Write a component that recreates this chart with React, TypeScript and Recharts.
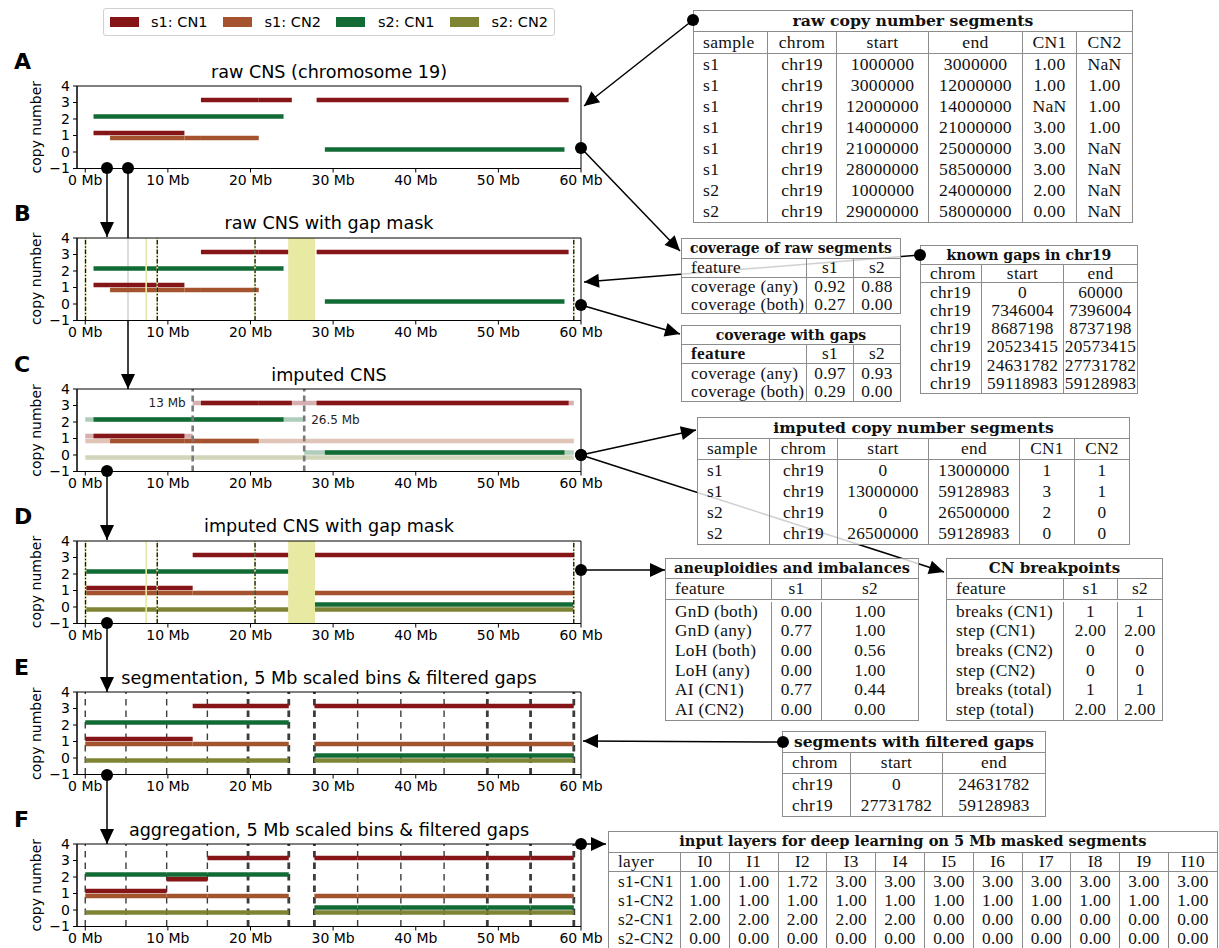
import React from 'react';
import { ComposedChart, Line, XAxis, YAxis, ReferenceArea, ReferenceLine, ReferenceDot } from 'recharts';

// ---------------- data ----------------
const CHROM = 'chr19';
const MB = 1e6;

const rawSample = ['s1', 's1', 's1', 's1', 's1', 's1', 's2', 's2'];
const rawStart = [1000000, 3000000, 12000000, 14000000, 21000000, 28000000, 1000000, 29000000];
const rawEnd = [3000000, 12000000, 14000000, 21000000, 25000000, 58500000, 24000000, 58000000];
const rawCN1 = [1, 1, NaN, 3, 3, 3, 2, 0];
const rawCN2 = [NaN, 1, 1, 1, NaN, NaN, NaN, NaN];

const gapStart = [0, 7346004, 8687198, 20523415, 24631782, 59118983];
const gapEnd = [60000, 7396004, 8737198, 20573415, 27731782, 59128983];

const impSample = ['s1', 's1', 's2', 's2'];
const impStart = [0, 13000000, 0, 26500000];
const impEnd = [13000000, 59128983, 26500000, 59128983];
const impCN1 = [1, 3, 2, 0];
const impCN2 = [1, 1, 0, 0];

const breakpointsMb = [13, 26.5];
const breakpointLabels = ['13 Mb', '26.5 Mb'];

const keepStart = [0, 27731782];
const keepEnd = [24631782, 59128983];

const binStart = [0, 4926356, 9852713, 14779069, 19705426, 27731782, 32964649, 38197516, 43430383, 48663250, 53896116];
const binEnd = [4926356, 9852713, 14779069, 19705426, 24631782, 32964649, 38197516, 43430383, 48663250, 53896116, 59128983];
const layerNames = ['I0', 'I1', 'I2', 'I3', 'I4', 'I5', 'I6', 'I7', 'I8', 'I9', 'I10'];
const s1CN1Layer = [1.0, 1.0, 1.72, 3.0, 3.0, 3.0, 3.0, 3.0, 3.0, 3.0, 3.0];
const s1CN2Layer = [1.0, 1.0, 1.0, 1.0, 1.0, 1.0, 1.0, 1.0, 1.0, 1.0, 1.0];
const s2CN1Layer = [2.0, 2.0, 2.0, 2.0, 2.0, 0.0, 0.0, 0.0, 0.0, 0.0, 0.0];
const s2CN2Layer = [0.0, 0.0, 0.0, 0.0, 0.0, 0.0, 0.0, 0.0, 0.0, 0.0, 0.0];
const layerRowNames = ['s1-CN1', 's1-CN2', 's2-CN1', 's2-CN2'];

const covFeatures = ['coverage (any)', 'coverage (both)'];
const covRawS1 = [0.92, 0.27];
const covRawS2 = [0.88, 0.0];
const covGapS1 = [0.97, 0.29];
const covGapS2 = [0.93, 0.0];

const aneuFeatures = ['GnD (both)', 'GnD (any)', 'LoH (both)', 'LoH (any)', 'AI (CN1)', 'AI (CN2)'];
const aneuS1 = [0.0, 0.77, 0.0, 0.0, 0.77, 0.0];
const aneuS2 = [1.0, 1.0, 0.56, 1.0, 0.44, 0.0];

const bpFeatures = ['breaks (CN1)', 'step (CN1)', 'breaks (CN2)', 'step (CN2)', 'breaks (total)', 'step (total)'];
const bpS1 = ['1', '2.00', '0', '0', '1', '2.00'];
const bpS2 = ['1', '2.00', '0', '0', '1', '2.00'];

const seriesNames = ['s1: CN1', 's1: CN2', 's2: CN1', 's2: CN2'];
const seriesColors = ['#861518', '#a5532e', '#126b34', '#7e8434'];

const X_TICKS = [0, 10, 20, 30, 40, 50, 60];
const Y_TICKS = [-1, 0, 1, 2, 3, 4];
const PANEL_LETTERS = ['A', 'B', 'C', 'D', 'E', 'F'];
const PANEL_TITLES = [
  'raw CNS (chromosome 19)',
  'raw CNS with gap mask',
  'imputed CNS',
  'imputed CNS with gap mask',
  'segmentation, 5 Mb scaled bins & filtered gaps',
  'aggregation, 5 Mb scaled bins & filtered gaps',
];

// ---------------- derived segments ----------------
type Seg = { x1: number; x2: number; v: number; s: number; faded?: boolean };
const OFF = [0.15, -0.15, 0.15, -0.15];
const sIdx = (sample: string, cn: number) => (sample === 's1' ? 0 : 2) + (cn - 1);

const rawSegs: Seg[] = [];
rawSample.forEach((sm, i) => {
  if (!isNaN(rawCN1[i])) rawSegs.push({ x1: rawStart[i] / MB, x2: rawEnd[i] / MB, v: rawCN1[i], s: sIdx(sm, 1) });
  if (!isNaN(rawCN2[i])) rawSegs.push({ x1: rawStart[i] / MB, x2: rawEnd[i] / MB, v: rawCN2[i], s: sIdx(sm, 2) });
});
rawSegs.sort((a, b) => a.s - b.s);

const impSegs: Seg[] = [];
impSample.forEach((sm, i) => {
  impSegs.push({ x1: impStart[i] / MB, x2: impEnd[i] / MB, v: impCN1[i], s: sIdx(sm, 1), faded: true });
  impSegs.push({ x1: impStart[i] / MB, x2: impEnd[i] / MB, v: impCN2[i], s: sIdx(sm, 2), faded: true });
});
impSegs.sort((a, b) => a.s - b.s);

const maskedSegs: Seg[] = [];
impSample.forEach((sm, i) => {
  keepStart.forEach((ks, k) => {
    const a = Math.max(ks, impStart[i]);
    const b = Math.min(keepEnd[k], impEnd[i]);
    if (b > a) {
      maskedSegs.push({ x1: a / MB, x2: b / MB, v: impCN1[i], s: sIdx(sm, 1) });
      maskedSegs.push({ x1: a / MB, x2: b / MB, v: impCN2[i], s: sIdx(sm, 2) });
    }
  });
});
maskedSegs.sort((a, b) => a.s - b.s);

const layers = [s1CN1Layer, s1CN2Layer, s2CN1Layer, s2CN2Layer];
const binSegs: Seg[] = [];
layers.forEach((lay, s) => {
  binStart.forEach((bs, b) => binSegs.push({ x1: bs / MB, x2: binEnd[b] / MB, v: lay[b], s }));
});

const binEdges = Array.from(new Set([...binStart, ...binEnd])).map((v) => v / MB);

// ---------------- layout ----------------
const PLOT_LEFT = 77;
const PLOT_W = 504;
const PH = 82.5;
const frameTop = (i: number) => 86 + 151.6 * i;
const fmt2 = (v: number) => (isNaN(v) ? 'NaN' : v.toFixed(2));
const fmtMinus = (v: number) => (v < 0 ? `\u2212${-v}` : `${v}`);

type ChartProps = {
  idx: number;
  segs: Seg[];
  gaps?: boolean;
  bins?: boolean;
  breaks?: boolean;
};

const MARKED_GAPS = [0, 2, 3, 5];
const BP_LABEL_Y = [3.15, 2.15];
const BP_LABEL_POS = ['left', 'right'];
const HEAVY_EDGES = [19.7, 24.6, 27.7, 48.7, 53.9, 59.1];

function CnChart({ idx, segs, gaps, bins, breaks }: ChartProps) {
  const top = frameTop(idx);
  return (
    <div style={{ position: 'absolute', left: 0, top: top - 40, zIndex: 2 }}>
      <ComposedChart width={PLOT_LEFT + PLOT_W + 40} height={40 + PH + 30} margin={{ top: 40, right: 40, bottom: 0, left: 0 }}>
        <XAxis
          type="number"
          dataKey="x"
          domain={[-1, 60]}
          ticks={X_TICKS}
          interval={0}
          allowDataOverflow
          height={30}
          tickSize={4}
          tickMargin={3}
          tickFormatter={(v: number) => `${v} Mb`}
          tick={{ fill: '#000', fontSize: 14, fontFamily: 'DejaVu Sans' }}
          stroke="#000"
          tickLine={{ stroke: '#000' }}
          axisLine={{ stroke: '#000' }}
        />
        <YAxis
          type="number"
          domain={[-1, 4]}
          ticks={Y_TICKS}
          interval={0}
          allowDataOverflow
          width={PLOT_LEFT}
          tickSize={4}
          tickMargin={3}
          tickFormatter={fmtMinus}
          tick={{ fill: '#000', fontSize: 14, fontFamily: 'DejaVu Sans' }}
          stroke="#000"
          tickLine={{ stroke: '#000' }}
          axisLine={{ stroke: '#000' }}
        />
        <ReferenceArea x1={-1} x2={60} y1={-1} y2={4} fill="#ffffff" fillOpacity={0.82} stroke="none" zIndex={-50} />
        {bins &&
          binEdges.map((e, i) => (
            <ReferenceLine
              key={`bin${i}`}
              x={e}
              stroke="#3c3c3c"
              strokeWidth={HEAVY_EDGES.some((h) => Math.abs(h - e) < 0.1) ? 2.8 : 1.4}
              strokeDasharray="6.5 5"
              zIndex={350}
            />
          ))}
        {segs.map((sg, i) => (
          <Line
            key={`seg${i}`}
            data={[
              { x: sg.x1, y: sg.v + OFF[sg.s] },
              { x: sg.x2, y: sg.v + OFF[sg.s] },
            ]}
            dataKey="y"
            type="linear"
            stroke={seriesColors[sg.s]}
            strokeOpacity={sg.faded ? 0.34 : 1}
            strokeWidth={4.6}
            dot={false}
            activeDot={false}
            legendType="none"
            isAnimationActive={false}
          />
        ))}
        {gaps &&
          gapStart.map((g, i) => (
            <ReferenceArea
              key={`gap${i}`}
              x1={g / MB}
              x2={gapEnd[i] / MB}
              y1={-1}
              y2={4}
              fill="#e8e9a3"
              fillOpacity={1}
              stroke="#e8e9a3"
              strokeWidth={1.2}
              ifOverflow="hidden"
              zIndex={450}
            />
          ))}
        {gaps &&
          MARKED_GAPS.map((gi) => (
            <ReferenceLine
              key={`gl${gi}`}
              x={(gapStart[gi] + gapEnd[gi]) / 2 / MB}
              stroke="#111"
              strokeWidth={1.3}
              strokeDasharray="4.5 1.8 1.4 1.8"
              zIndex={460}
            />
          ))}
        {breaks &&
          breakpointsMb.map((b, i) => (
            <ReferenceLine key={`bp${i}`} x={b} stroke="#7a7a7a" strokeWidth={2.6} strokeDasharray="6 4" zIndex={470} />
          ))}
        {breaks &&
          breakpointsMb.map((b, i) => (
            <ReferenceDot
              key={`bpl${i}`}
              x={b}
              y={BP_LABEL_Y[i]}
              r={0}
              fill="none"
              stroke="none"
              zIndex={480}
              label={{
                value: breakpointLabels[i],
                position: BP_LABEL_POS[i] as any,
                offset: 7,
                fontSize: 12,
                fill: '#222',
                fontFamily: 'DejaVu Sans',
              }}
            />
          ))}
        <ReferenceArea x1={-1} x2={60} y1={-1} y2={4} fill="none" stroke="#000" strokeWidth={1} ifOverflow="visible" zIndex={900} />
      </ComposedChart>
    </div>
  );
}

// ---------------- tables ----------------
type TableProps = {
  x: number;
  y: number;
  title: string;
  cols: number[];
  header: string[];
  rows: string[][];
  titleH: number;
  headH: number;
  rowH: number;
  fs?: number;
  tfs?: number;
  padTop?: number;
  boldFirstHead?: boolean;
};
const LINE = '1px solid #8c8c8c';

function DataTable({ x, y, title, cols, header, rows, titleH, headH, rowH, fs = 17.3, tfs = 15.4, padTop = 0, boldFirstHead }: TableProps) {
  const W = cols.reduce((a, b) => a + b, 0);
  const cell = (txt: string, i: number, bold?: boolean) => (
    <div
      key={i}
      style={{
        boxSizing: 'border-box',
        width: i === 0 ? cols[0] - 1 : i === cols.length - 1 ? undefined : cols[i],
        flex: i === cols.length - 1 ? 1 : undefined,
        borderRight: i < cols.length - 1 ? LINE : 'none',
        display: 'flex',
        alignItems: 'center',
        justifyContent: i === 0 ? 'flex-start' : 'center',
        paddingLeft: i === 0 ? 9 : 0,
        whiteSpace: 'nowrap',
        fontWeight: bold ? 'bold' : 'normal',
      }}
    >
      {txt}
    </div>
  );
  return (
    <div
      style={{
        position: 'absolute',
        left: x,
        top: y,
        width: W,
        boxSizing: 'border-box',
        border: LINE,
        background: 'rgba(255,255,255,0.82)',
        fontFamily: '"Liberation Serif", serif',
        fontSize: fs,
        letterSpacing: 0.3,
        color: '#111',
        lineHeight: 1,
        zIndex: 2,
      }}
    >
      <div
        style={{
          boxSizing: 'border-box',
          height: titleH,
          borderBottom: LINE,
          display: 'flex',
          alignItems: 'center',
          justifyContent: 'center',
          fontFamily: '"DejaVu Serif", serif',
          fontWeight: 'bold',
          fontSize: tfs,
          letterSpacing: 0,
          whiteSpace: 'nowrap',
        }}
      >
        {title}
      </div>
      <div style={{ boxSizing: 'border-box', display: 'flex', height: headH, borderBottom: LINE }}>
        {header.map((h, i) => cell(h, i, boldFirstHead && i === 0))}
      </div>
      <div style={{ paddingTop: padTop }}>
        {rows.map((r, ri) => (
          <div key={ri} style={{ display: 'flex', height: rowH }}>
            {r.map((c, i) => cell(c, i))}
          </div>
        ))}
      </div>
    </div>
  );
}

// ---------------- arrows ----------------
type Arrow = { from: [number, number]; to: [number, number] };
const ARROWS: Arrow[] = [
  { from: [693, 20], to: [584, 106] },
  { from: [581, 148], to: [680, 251] },
  { from: [920, 255], to: [584, 282] },
  { from: [581, 305], to: [680, 334] },
  { from: [581, 455], to: [696, 430] },
  { from: [581, 455], to: [944, 572] },
  { from: [581, 570], to: [665, 570] },
  { from: [783, 742], to: [583, 741] },
  { from: [581, 844], to: [606, 844] },
  { from: [107, 168], to: [107, 237] },
  { from: [128, 168], to: [128, 389] },
  { from: [107, 471], to: [107, 540] },
  { from: [107, 623], to: [107, 692] },
  { from: [107, 775], to: [107, 844] },
];

function headPoints(a: Arrow) {
  const [x0, y0] = a.from;
  const [x1, y1] = a.to;
  const L = Math.hypot(x1 - x0, y1 - y0);
  const ux = (x1 - x0) / L;
  const uy = (y1 - y0) / L;
  const hl = 15;
  const hw = 7;
  const bx = x1 - ux * hl;
  const by = y1 - uy * hl;
  return `${x1},${y1} ${bx - uy * hw},${by + ux * hw} ${bx + uy * hw},${by - ux * hw}`;
}

export default function App() {
  const tableRaw = rawSample.map((s, i) => [s, CHROM, `${rawStart[i]}`, `${rawEnd[i]}`, fmt2(rawCN1[i]), fmt2(rawCN2[i])]);
  const tableCovRaw = covFeatures.map((f, i) => [f, fmt2(covRawS1[i]), fmt2(covRawS2[i])]);
  const tableCovGap = covFeatures.map((f, i) => [f, fmt2(covGapS1[i]), fmt2(covGapS2[i])]);
  const tableGaps = gapStart.map((g, i) => [CHROM, `${g}`, `${gapEnd[i]}`]);
  const tableImp = impSample.map((s, i) => [s, CHROM, `${impStart[i]}`, `${impEnd[i]}`, `${impCN1[i]}`, `${impCN2[i]}`]);
  const tableAneu = aneuFeatures.map((f, i) => [f, fmt2(aneuS1[i]), fmt2(aneuS2[i])]);
  const tableBp = bpFeatures.map((f, i) => [f, bpS1[i], bpS2[i]]);
  const tableKeep = keepStart.map((k, i) => [CHROM, `${k}`, `${keepEnd[i]}`]);
  const tableLayers = layers.map((lay, i) => [layerRowNames[i], ...lay.map(fmt2)]);

  return (
    <div
      style={{
        position: 'absolute',
        left: 0,
        top: 0,
        width: 1219,
        height: 948,
        background: '#fff',
        overflow: 'hidden',
        fontFamily: 'DejaVu Sans',
      }}
    >
      {/* arrow shafts (below charts/tables) */}
      <svg width={1219} height={948} style={{ position: 'absolute', left: 0, top: 0, zIndex: 1 }}>
        {ARROWS.map((a, i) => (
          <line key={i} x1={a.from[0]} y1={a.from[1]} x2={a.to[0]} y2={a.to[1]} stroke="#000" strokeWidth={1.5} />
        ))}
      </svg>

      <CnChart idx={0} segs={rawSegs} />
      <CnChart idx={1} segs={rawSegs} gaps />
      <CnChart idx={2} segs={[...impSegs, ...rawSegs]} breaks />
      <CnChart idx={3} segs={maskedSegs} gaps />
      <CnChart idx={4} segs={maskedSegs} bins />
      <CnChart idx={5} segs={binSegs} bins />

      {/* legend */}
      <div
        style={{
          position: 'absolute',
          left: 103,
          top: 8,
          width: 452,
          height: 28,
          boxSizing: 'border-box',
          border: '1px solid #d0d0d0',
          borderRadius: 3,
          background: '#fff',
          zIndex: 3,
        }}
      >
        {seriesNames.map((n, i) => (
          <React.Fragment key={n}>
            <div
              style={{
                position: 'absolute',
                left: 6 + 113.2 * i,
                top: 8,
                width: 29,
                height: 10,
                background: seriesColors[i],
              }}
            />
            <div
              style={{
                position: 'absolute',
                left: 47 + 113.5 * i,
                top: 4,
                fontSize: 14.5,
                lineHeight: '18px',
                color: '#000',
                whiteSpace: 'nowrap',
              }}
            >
              {n}
            </div>
          </React.Fragment>
        ))}
      </div>

      <DataTable
        x={693}
        y={10}
        title="raw copy number segments"
        cols={[75, 69, 92, 94, 54, 56]}
        header={['sample', 'chrom', 'start', 'end', 'CN1', 'CN2']}
        rows={tableRaw}
        titleH={21}
        headH={22}
        rowH={21}
        fs={17.6}
        tfs={15.7}
      />
      <DataTable
        x={681}
        y={238}
        title="coverage of raw segments"
        cols={[126, 47, 47]}
        header={['feature', 's1', 's2']}
        rows={tableCovRaw}
        titleH={20}
        headH={19}
        rowH={17.5}
        tfs={13.9}
      />
      <DataTable
        x={920}
        y={245}
        title="known gaps in chr19"
        cols={[62, 82, 74]}
        header={['chrom', 'start', 'end']}
        rows={tableGaps}
        titleH={19}
        headH={18}
        rowH={18.3}
        tfs={14.1}
      />
      <DataTable
        x={681}
        y={325}
        title="coverage with gaps"
        cols={[126, 47, 47]}
        header={['feature', 's1', 's2']}
        rows={tableCovGap}
        titleH={19}
        headH={19}
        rowH={18.5}
        tfs={14}
        boldFirstHead
      />
      <DataTable
        x={697}
        y={417}
        title="imputed copy number segments"
        cols={[73, 68, 91, 91, 55, 55]}
        header={['sample', 'chrom', 'start', 'end', 'CN1', 'CN2']}
        rows={tableImp}
        titleH={21}
        headH={21}
        rowH={21}
        tfs={15.6}
      />
      <DataTable
        x={665}
        y={558}
        title="aneuploidies and imbalances"
        cols={[107, 50, 97]}
        header={['feature', 's1', 's2']}
        rows={tableAneu}
        titleH={20}
        headH={20.5}
        rowH={19.7}
        padTop={2}
        tfs={14.5}
      />
      <DataTable
        x={946}
        y={558}
        title="CN breakpoints"
        cols={[118, 54, 45]}
        header={['feature', 's1', 's2']}
        rows={tableBp}
        titleH={20}
        headH={20.5}
        rowH={19.7}
        padTop={2}
        tfs={15}
      />
      <DataTable
        x={782}
        y={731}
        title="segments with filtered gaps"
        cols={[69, 92, 103]}
        header={['chrom', 'start', 'end']}
        rows={tableKeep}
        titleH={21}
        headH={21}
        rowH={21}
        tfs={15.5}
      />
      <DataTable
        x={608}
        y={831}
        title="input layers for deep learning on 5 Mb masked segments"
        cols={[73, ...layerNames.map(() => 48.8)]}
        header={['layer', ...layerNames]}
        rows={tableLayers}
        titleH={20.5}
        headH={19}
        rowH={19.3}
        tfs={14.6}
      />

      {/* texts, arrow heads, dots */}
      <svg width={1219} height={948} style={{ position: 'absolute', left: 0, top: 0, zIndex: 5, pointerEvents: 'none' }}>
        {PANEL_TITLES.map((t, i) => {
          const top = frameTop(i);
          return (
            <g key={t}>
              <text x={14} y={top - 17} fontSize={22} fontWeight="bold" fontFamily="DejaVu Sans" fill="#000">
                {PANEL_LETTERS[i]}
              </text>
              <text x={PLOT_LEFT + PLOT_W / 2} y={top - 8.5} fontSize={17.6} textAnchor="middle" fontFamily="DejaVu Sans" fill="#000">
                {t}
              </text>
              <text
                x={41}
                y={top + PH / 2}
                fontSize={14}
                textAnchor="middle"
                fontFamily="DejaVu Sans"
                fill="#000"
                transform={`rotate(-90 41 ${top + PH / 2})`}
              >
                copy number
              </text>
            </g>
          );
        })}
        {ARROWS.map((a, i) => (
          <polygon key={`h${i}`} points={headPoints(a)} fill="#000" />
        ))}
        {ARROWS.map((a, i) => (
          <circle key={`d${i}`} cx={a.from[0]} cy={a.from[1]} r={6} fill="#000" />
        ))}
      </svg>
    </div>
  );
}
